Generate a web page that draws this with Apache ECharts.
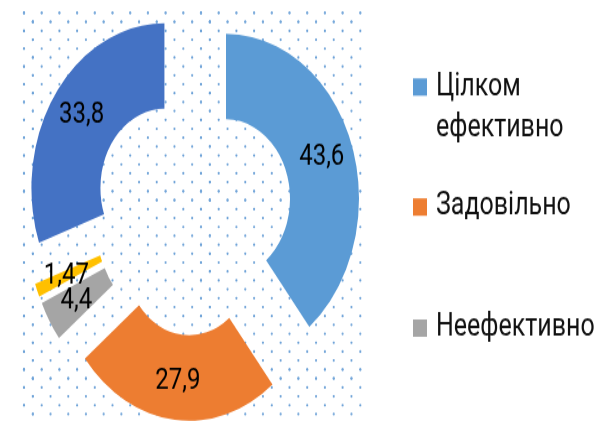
<!DOCTYPE html>
<html>
<head>
    <meta charset="UTF-8">
    <title>Оцінка ефективності</title>
    <script src="https://cdn.jsdelivr.net/npm/echarts@6/dist/echarts.min.js"></script>
    <style>
        html, body { margin: 0; padding: 0; background: #fff; }
        body { width: 596px; height: 421px; }
        /* the reference picture is stretched vertically, so the chart is drawn flat and scaled */
        #chart { width: 596px; height: 340px; transform: scaleY(1.2382); transform-origin: 0 0; }
    </style>
</head>
<body>
<div id="chart"></div>
<script type="text/javascript">
    // дані діаграми
    const names = ['Цілком ефективно', 'Задовільно', 'Неефективно', 'Інше', 'Ефективно'];
    const values = [43.6, 27.9, 4.4, 1.47, 33.8];
    const colors = ['#5b9bd5', '#ed7d31', '#a5a5a5', '#ffc000', '#4472c4'];
    const legendNames = ['Цілком ефективно', 'Задовільно', 'Неефективно'];

    // dotted background of the plot area
    let dots = document.createElement('canvas');
    dots.width = 177;
    dots.height = 144;
    let ctx = dots.getContext('2d');
    ctx.fillStyle = '#6fa3d8';
    for (let i = 0; i < 11; i++) {
        for (let j = 0; j < 11; j++) {
            let pts = [[4 + i * 17.7, 3.5 + j * 14.38], [12.85 + i * 17.7, 10.7 + j * 14.38]];
            pts.forEach(function (p) {
                ctx.beginPath();
                ctx.arc(p[0] % 177, p[1] % 144, 1.1, 0, Math.PI * 2);
                ctx.fill();
            });
        }
    }

    let chart = echarts.init(document.getElementById('chart'));

    let legendBase = {
        orient: 'vertical',
        left: 413,
        padding: 0,
        itemWidth: 14,
        itemHeight: 14,
        icon: 'rect',
        selectedMode: false,
        textStyle: {
            fontFamily: 'Roboto',
            fontSize: 25,
            color: '#111',
            lineHeight: 30,
            padding: [0, 0, 0, 4]
        }
    };

    let option = {
        animation: false,
        graphic: [{
            type: 'rect',
            left: 20,
            top: 7,
            silent: true,
            z: -10,
            shape: { x: 0, y: 0, width: 342, height: 340 },
            style: { fill: { image: dots, repeat: 'repeat' } }
        }],
        legend: [
            Object.assign({}, legendBase, {
                top: 20.8,
                data: [legendNames[0]],
                // empty first line keeps the marker beside "Цілком"
                formatter: function () { return ' \nЦілком\nефективно'; },
                textStyle: Object.assign({}, legendBase.textStyle, { lineHeight: 33 })
            }),
            Object.assign({}, legendBase, { top: 152.2, data: [legendNames[1]] }),
            Object.assign({}, legendBase, { top: 250, data: [legendNames[2]] })
        ],
        series: [{
            type: 'pie',
            center: [193, 172],
            radius: [64, 133],
            startAngle: 90,
            clockwise: true,
            selectedMode: 'multiple',
            selectedOffset: 35,
            avoidLabelOverlap: false,
            emphasis: { disabled: true },
            labelLayout: { hideOverlap: false },
            label: {
                show: true,
                position: 'inside',
                offset: [-3, 5],
                fontFamily: 'Roboto',
                fontSize: 24,
                color: '#000',
                formatter: function (p) { return String(p.value).replace('.', ','); }
            },
            labelLine: { show: false },
            data: names.map(function (n, i) {
                return { name: n, value: values[i], selected: true, itemStyle: { color: colors[i] } };
            })
        }]
    };
    chart.setOption(option);
</script>
</body>
</html>
